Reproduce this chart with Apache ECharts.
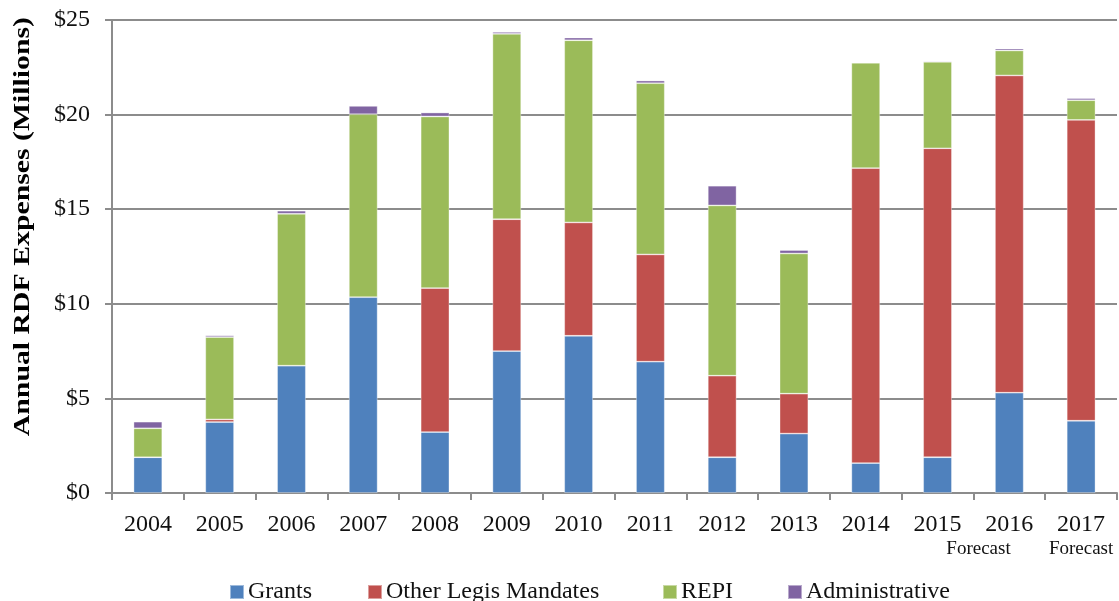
<!DOCTYPE html>
<html>
<head>
<meta charset="utf-8">
<script src="https://cdn.jsdelivr.net/npm/echarts@6/dist/echarts.min.js"></script>
<style>
html,body{margin:0;padding:0;background:#fff;}
#chart{width:1119px;height:601px;}
</style>
</head>
<body>
<div id="chart"></div>
<script>
var years = ['2004','2005','2006','2007','2008','2009','2010','2011','2012','2013','2014','2015','2016','2017'];
var notes = ['','','','','','','','','','','','Forecast','','Forecast'];
var grants = [1.89, 3.75, 6.73, 10.35, 3.22, 7.50, 8.31, 6.94, 1.89, 3.14, 1.58, 1.89, 5.30, 3.82];
var otherLegis = [0, 0.14, 0, -0.14, 7.61, 6.97, 5.99, 5.67, 4.31, 2.11, 15.59, 16.33, 16.77, 15.90];
var repi = [1.53, 4.35, 8.03, 9.67, 9.07, 9.80, 9.63, 9.05, 9.00, 7.41, 5.57, 4.57, 1.32, 1.04];
var admin = [0.35, 0.09, 0.16, 0.44, 0.21, 0.10, 0.14, 0.14, 1.04, 0.18, 0.04, 0.05, 0.10, 0.11];
var yTicks = [0, 5, 10, 15, 20, 25];
var seriesNames = ['Grants', 'Other Legis Mandates', 'REPI', 'Administrative'];
var colors = ['#4F81BD', '#C0504D', '#9BBB59', '#8064A2'];

var FONT = '"Liberation Serif", "Times New Roman", serif';
var chart = echarts.init(document.getElementById('chart'));
var dataSets = [grants, otherLegis, repi, admin];
var series = seriesNames.map(function (n, i) {
  return {
    name: n,
    type: 'bar',
    stack: 'total',
    barWidth: '40%',
    data: dataSets[i],
    itemStyle: { color: colors[i], borderColor: 'rgba(255,255,255,0.45)', borderWidth: 0.8 }
  };
});
var legendLefts = [224, 362, 657, 782];
var legends = seriesNames.map(function (n, i) {
  return {
    data: [n],
    left: legendLefts[i],
    top: 575,
    icon: 'rect',
    itemWidth: 14,
    itemHeight: 14,
    textStyle: { fontFamily: FONT, fontSize: 24, color: '#111', padding: [0, 0, 0, -1] }
  };
});
chart.setOption({
  animation: false,
  color: colors,
  textStyle: { fontFamily: FONT },
  grid: { left: 112, right: 2, top: 20, bottom: 108, containLabel: false },
  legend: legends,
  xAxis: {
    type: 'category',
    data: years,
    axisLine: { lineStyle: { color: '#8c8c8c', width: 2 } },
    axisTick: { show: true, length: 7, lineStyle: { color: '#8c8c8c', width: 2 } },
    axisLabel: {
      interval: 0,
      margin: 18,
      formatter: function (v, idx) {
        var n = notes[idx];
        if (!n) return '{y|' + v + '}\n{f| }';
        return '{y|' + v + '}\n' + (idx === notes.length - 1 ? '{f|' + n + '}' : '{g|' + n + '}');
      },
      rich: {
        y: { fontFamily: FONT, fontSize: 24, color: '#111', lineHeight: 27, align: 'center' },
        f: { fontFamily: FONT, fontSize: 19, color: '#111', lineHeight: 22, align: 'center' },
        g: { fontFamily: FONT, fontSize: 19, color: '#111', lineHeight: 22, align: 'center', padding: [0, 0, 0, 82] }
      }
    }
  },
  yAxis: {
    type: 'value',
    min: 0,
    max: 25,
    interval: 5,
    axisLine: { show: true, lineStyle: { color: '#8c8c8c', width: 2 } },
    axisTick: { show: true, length: 7, lineStyle: { color: '#8c8c8c', width: 2 } },
    splitLine: { lineStyle: { color: '#8c8c8c', width: 2 } },
    axisLabel: {
      margin: 22,
      fontFamily: FONT,
      fontSize: 24,
      color: '#111',
      formatter: function (v) { return yTicks.indexOf(v) >= 0 ? '$' + v : ''; }
    }
  },
  graphic: [{
    type: 'text',
    left: 11,
    top: 17,
    rotation: Math.PI / 2,
    scaleX: 1.24,
    style: {
      text: 'Annual RDF Expenses (Millions)',
      font: 'bold 24px ' + FONT,
      fill: '#000'
    }
  }],
  series: series
});
</script>
</body>
</html>
